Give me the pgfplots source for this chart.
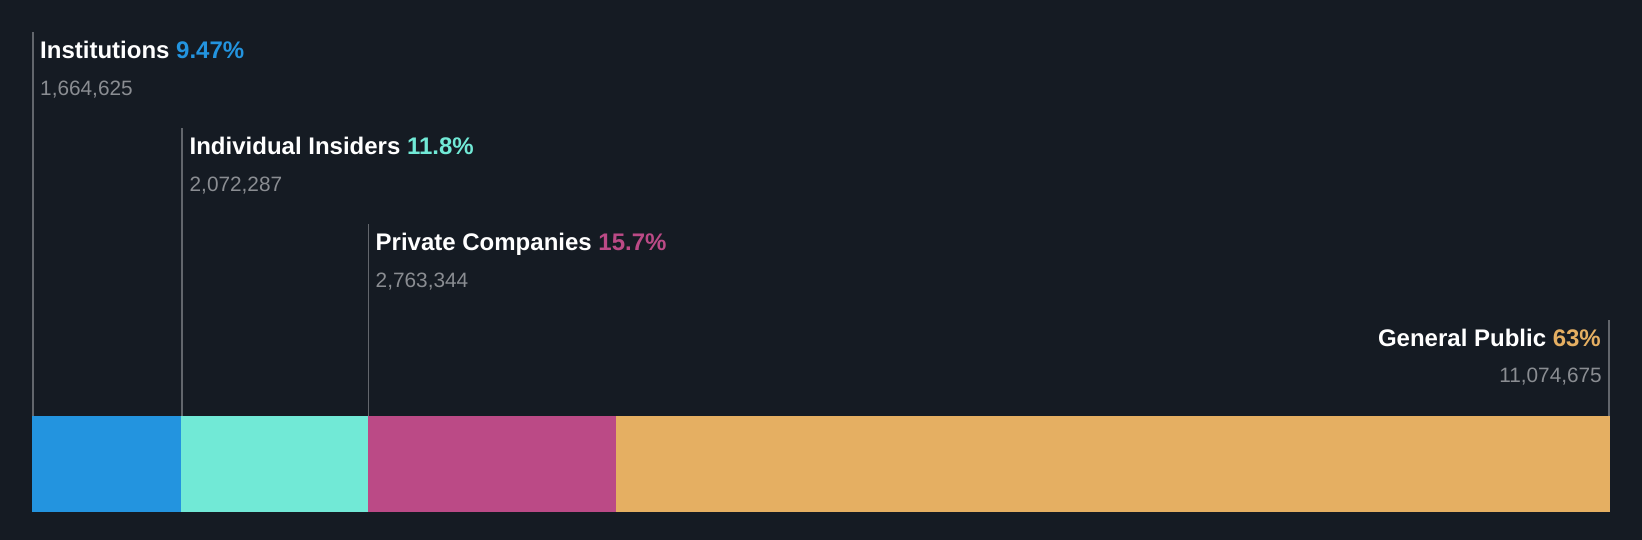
\documentclass[border=0pt]{standalone}
\usepackage{pgfplots}
\pgfplotsset{compat=1.18}
\usepackage{fontspec}
\setmainfont{Liberation Sans}
\definecolor{bg}{HTML}{151B23}
\definecolor{cInst}{HTML}{2394DF}
\definecolor{cIns}{HTML}{71E9D6}
\definecolor{cPriv}{HTML}{BB4A86}
\definecolor{cPub}{HTML}{E5AF62}
\definecolor{numgray}{HTML}{8A8D92}
\definecolor{linegray}{HTML}{62666C}
\newcommand{\ttl}{\fontsize{24}{28}\selectfont\bfseries}
\newcommand{\num}{\fontsize{20.8}{24}\selectfont}
\begin{document}
\begin{tikzpicture}
\fill[bg] (-32pt,0pt) rectangle (1610pt,540pt);
\begin{axis}[
  at={(0pt,0pt)}, anchor=origin,
  scale only axis, width=1578pt, height=540pt,
  xmin=0, xmax=17574931, ymin=0, ymax=540,
  hide axis, clip=false,
  xbar stacked, bar width=96,
]
\addplot[fill=cInst, draw=none] coordinates {(1664625,76)};
\addplot[fill=cIns, draw=none] coordinates {(2072287,76)};
\addplot[fill=cPriv, draw=none] coordinates {(2763344,76)};
\addplot[fill=cPub, draw=none] coordinates {(11074675,76)};
\end{axis}
\begin{axis}[
  at={(0pt,0pt)}, anchor=origin,
  scale only axis, width=1578pt, height=540pt,
  xmin=0, xmax=17574931, ymin=0, ymax=540,
  hide axis, clip=false,
]
\addplot[linegray, line width=1.8pt] coordinates {(10000,124) (10000,508)};
\addplot[linegray, line width=1.8pt] coordinates {(1674625,124) (1674625,412)};
\addplot[linegray, line width=1.8pt] coordinates {(3746912,124) (3746912,316)};
\addplot[linegray, line width=1.8pt] coordinates {(17564931,124) (17564931,220)};
\node[anchor=base west, inner sep=0pt, white] at ([xshift=8pt]axis cs:0,481) {\ttl Institutions \textcolor{cInst}{9.47\%}};
\node[anchor=base west, inner sep=0pt, numgray] at ([xshift=8pt]axis cs:0,444) {\num 1,664,625};
\node[anchor=base west, inner sep=0pt, white] at ([xshift=8pt]axis cs:1664625,385) {\ttl Individual Insiders \textcolor{cIns}{11.8\%}};
\node[anchor=base west, inner sep=0pt, numgray] at ([xshift=8pt]axis cs:1664625,348) {\num 2,072,287};
\node[anchor=base west, inner sep=0pt, white] at ([xshift=8pt]axis cs:3736912,289) {\ttl Private Companies \textcolor{cPriv}{15.7\%}};
\node[anchor=base west, inner sep=0pt, numgray] at ([xshift=8pt]axis cs:3736912,252) {\num 2,763,344};
\node[anchor=base east, inner sep=0pt, white] at ([xshift=-9pt]axis cs:17574931,193) {\ttl General Public \textcolor{cPub}{63\%}};
\node[anchor=base east, inner sep=0pt, numgray] at ([xshift=-8pt]axis cs:17574931,157) {\num 11,074,675};
\end{axis}
\end{tikzpicture}
\end{document}
